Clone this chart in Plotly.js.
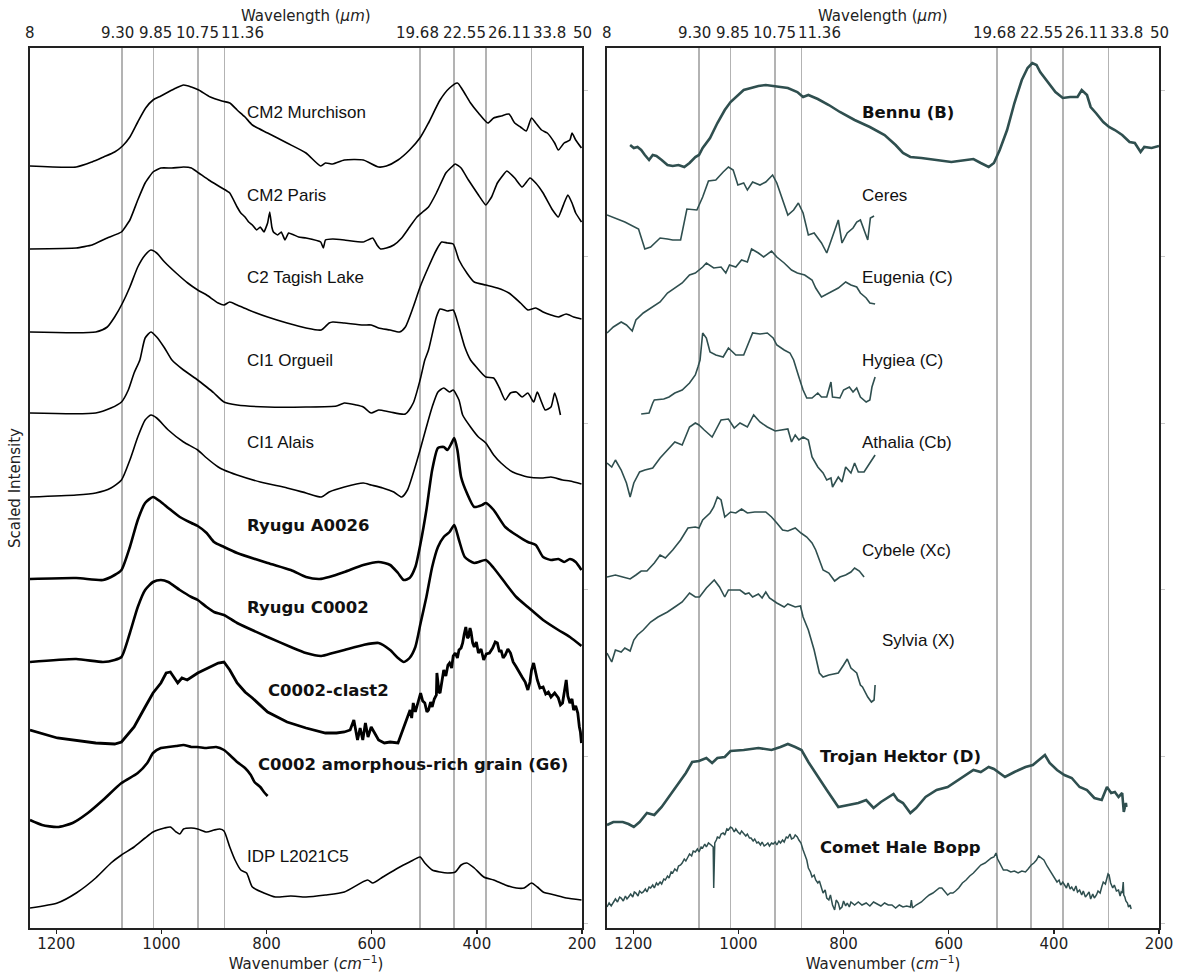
<!DOCTYPE html>
<html>
<head>
<meta charset="utf-8">
<script src="https://cdn.plot.ly/plotly-3.0.1.min.js"></script>
<style>
  html, body { margin: 0; padding: 0; background: #fff; }
  #chart { width: 1177px; height: 973px; }
</style>
</head>
<body>
<div id="chart"></div>
<script>
// ---- Wavelength (µm) labels for the top axis ----
const wavelengthLabels = ["8", "9.30", "9.85", "10.75", "11.36", "19.68", "22.55", "26.11", "33.8", "50"];
const wavenumberTicks = [1200, 1000, 800, 600, 400, 200];

// ---- Laboratory spectra (wavenumber in cm^-1, stacked scaled intensity) ----
const murchisonWn = [1250,1162,1132,1110,1089,1074,1060,1045,1030,1016,1001,987,972,958,943,929,907,885,870,856,841,827,798,761,725,697,688,674,652,616,587,572,550,528,507,492,470,452,437,427,412,397,379,368,354,339,328,317,306,296,288,277,266,252,245,234,223,219,212,201];
const murchisonI  = [76.2,76.1,76.6,77.1,77.6,78.2,79.1,80.6,82.0,82.8,83.2,83.6,84.0,84.3,84.1,83.8,83.1,82.7,82.5,81.8,81.1,80.3,79.5,78.5,77.5,76.2,76.5,76.4,76.8,76.8,76.1,76.2,76.8,77.8,79.1,80.5,82.8,84.0,84.5,83.8,82.5,81.5,80.5,81.0,81.2,81.4,80.5,80.1,79.7,81.0,80.5,79.8,79.5,78.5,77.8,78.5,78.8,79.5,78.8,78.0];

const parisWn = [1250,1162,1132,1103,1076,1060,1045,1031,1016,1001,980,958,943,929,910,885,870,856,849,841,834,827,819,812,805,798,794,790,787,779,772,765,758,739,725,697,692,688,674,652,616,598,590,583,572,558,543,528,514,503,492,477,459,441,430,416,397,383,372,361,343,328,314,299,288,274,256,245,234,227,219,212,201];
const parisI  = [67.9,68.0,68.3,69.0,69.6,70.8,72.8,74.5,75.6,76.0,76.0,76.1,76.0,75.5,74.8,74.0,73.5,72.1,71.5,71.1,70.6,70.3,69.8,70.1,69.6,70.5,71.6,70.1,69.6,69.3,69.6,68.8,69.5,69.1,69.0,68.6,68.0,68.8,68.9,68.8,68.6,69.0,68.3,67.9,68.0,68.3,69.0,70.1,71.1,71.6,72.1,73.5,75.5,76.4,76.0,74.8,73.3,72.3,73.1,74.5,75.7,75.0,74.1,75.0,74.5,73.5,71.8,71.1,72.5,73.3,72.5,71.5,70.6];

const tagishWn = [1250,1125,1103,1089,1074,1060,1045,1031,1020,1009,994,972,950,931,914,892,881,870,856,834,798,761,725,696,681,674,652,616,601,587,565,547,536,521,508,492,477,467,456,445,434,419,405,383,361,339,317,303,288,274,259,245,230,216,201];
const tagishI  = [59.6,59.6,60.1,61.1,62.5,64.1,66.1,67.3,67.8,67.5,66.6,65.5,64.5,63.8,63.3,62.5,62.3,62.6,62.3,61.8,61.1,60.5,60.0,59.8,60.5,60.6,60.5,60.3,60.3,60.0,59.8,59.6,60.1,62.1,64.1,66.1,67.8,68.6,68.5,68.4,66.8,65.5,64.6,64.3,64.0,63.5,62.5,61.8,62.0,61.6,61.3,61.1,61.4,61.1,60.9];

const orgueilWn = [1250,1125,1096,1076,1063,1052,1041,1031,1020,1009,994,980,958,931,914,900,881,856,798,725,667,652,630,616,601,587,565,536,521,508,499,492,477,470,456,445,434,423,412,401,383,368,357,346,336,325,314,303,292,285,277,270,259,252,246,241];
const orgueilI  = [51.5,51.5,52.0,52.6,53.8,55.5,56.8,59.0,59.6,59.1,58.0,56.8,55.8,54.8,54.1,53.5,52.6,52.3,52.1,52.1,52.2,52.5,52.3,52.1,51.5,51.8,51.6,51.4,52.5,54.8,56.8,57.8,61.1,61.9,61.7,61.8,60.1,58.1,56.8,56.1,55.1,55.0,54.0,52.8,53.5,53.6,53.1,53.5,52.6,53.6,52.6,51.8,52.1,53.5,52.5,51.3];

const alaisWn = [1250,1162,1125,1096,1076,1060,1045,1031,1020,1009,987,958,931,914,892,881,856,812,761,725,696,681,652,616,601,579,558,543,532,521,508,496,485,474,463,452,445,434,427,412,397,383,368,354,332,303,274,259,237,223,201];
const alaisI  = [43.1,43.3,43.5,44.0,44.8,46.8,49.1,50.8,51.3,51.0,49.8,48.6,47.8,47.0,46.1,45.8,45.3,44.6,44.0,43.5,43.1,43.6,44.1,44.5,44.3,44.0,43.6,43.1,43.8,45.5,47.8,50.1,52.1,53.6,54.0,53.6,53.8,52.8,51.3,50.1,49.1,48.5,47.3,46.5,45.6,45.1,45.0,45.1,44.8,44.7,44.4];

const ryuguA0026Wn = [1250,1162,1111,1089,1076,1060,1045,1031,1016,1001,987,965,943,931,914,900,881,856,798,754,725,699,681,652,616,587,565,550,539,528,517,507,496,485,474,463,456,448,443,437,430,419,405,390,383,368,346,325,303,288,274,259,245,234,223,212,201];
const ryuguA0026I  = [34.9,35.0,34.8,35.3,35.8,38.1,40.8,42.5,43.1,42.6,42.0,41.1,40.5,40.2,39.5,38.6,38.1,37.5,36.5,35.8,35.1,34.9,35.1,35.6,36.3,36.6,36.3,35.5,34.8,35.0,36.1,38.5,41.8,45.8,48.0,48.1,47.8,48.5,49.0,47.8,45.1,43.5,42.1,42.3,42.5,41.8,40.1,39.3,38.6,38.3,37.1,36.8,36.9,36.6,36.9,36.6,35.8];

const ryuguC0002Wn = [1250,1162,1111,1089,1076,1060,1045,1031,1016,1001,987,965,943,931,914,900,881,856,798,754,725,696,674,652,616,587,565,550,539,528,517,507,496,485,474,463,452,443,434,423,405,383,368,346,325,303,274,245,223,201];
const ryuguC0002I  = [26.6,26.9,26.6,26.8,27.1,29.5,32.1,33.8,34.6,34.8,34.6,33.8,33.1,32.8,32.1,31.6,31.3,30.5,29.1,28.1,27.5,27.2,27.5,27.8,28.3,28.5,27.8,27.0,26.6,27.0,28.1,30.5,33.1,36.1,38.1,39.1,39.6,40.3,38.8,37.1,36.5,36.8,36.0,34.5,33.1,32.1,30.8,29.8,29.1,28.2];

const clast2Wn = [1250,1198,1125,1089,1076,1052,1031,1016,1001,991,983,976,969,961,951,931,910,892,881,870,856,841,827,798,761,725,688,667,652,641,634,630,627,622,617,612,607,601,594,587,576,565,550,543,536,527,524,521,517,514,510,507,503,499,495,492,488,485,481,477,476,474,472,470,466,463,459,455,452,448,445,441,437,434,430,427,424,421,418,416,413,411,408,405,401,397,392,387,382,376,370,365,361,357,354,350,346,341,336,331,325,320,314,308,303,299,296,292,288,285,280,274,269,264,259,252,245,241,237,233,230,227,223,219,216,212,208,205,203,201];
const clast2I  = [19.8,19.0,18.5,18.4,18.6,20.1,22.1,23.5,24.5,25.5,25.6,25.0,24.5,25.0,24.8,25.5,26.0,26.5,26.6,25.8,24.5,23.6,23.0,21.6,20.6,20.0,19.5,19.5,19.6,19.8,20.8,19.8,18.8,20.0,18.8,20.5,19.1,20.1,19.5,18.8,18.5,18.6,18.5,19.5,20.3,21.8,21.0,22.5,21.6,22.1,23.0,23.5,22.7,22.5,21.6,21.8,22.6,22.1,22.9,23.3,25.5,24.5,23.6,23.5,24.6,25.8,25.2,26.3,26.5,26.0,27.2,27.5,27.0,27.8,28.0,28.5,29.4,30.1,29.0,29.1,30.0,29.6,28.5,28.1,28.6,27.5,27.9,26.8,27.4,27.5,28.0,28.6,28.5,27.6,27.8,27.0,27.3,27.9,27.5,26.6,26.1,25.6,25.1,24.6,23.8,24.6,25.8,26.5,25.3,24.8,24.0,24.1,23.4,23.6,23.1,23.5,23.0,22.3,22.5,23.6,24.8,23.2,22.5,22.9,21.8,22.2,21.5,20.1,19.6,18.5];

const g6Wn = [1250,1227,1198,1169,1140,1111,1076,1045,1027,1016,1001,987,972,958,943,931,914,896,881,870,856,841,830,823,812,805,798];
const g6I  = [10.8,10.3,10.1,10.5,11.5,12.8,14.5,15.5,16.5,17.5,18.0,18.1,18.2,18.3,18.1,18.1,18.0,18.1,17.8,17.3,16.6,16.0,15.3,14.6,14.1,13.6,13.2];

const idpWn = [1250,1198,1162,1125,1096,1076,1052,1031,1016,994,983,972,965,958,943,931,914,900,889,881,870,860,849,838,827,805,783,754,725,688,652,608,598,579,550,528,508,499,485,470,456,441,430,419,405,387,368,346,325,310,296,285,274,252,230,201];
const idpI  = [2.0,2.5,3.5,5.0,6.5,7.3,8.1,9.0,9.6,10.0,10.1,9.6,9.4,9.9,10.0,9.9,9.6,9.8,9.9,9.7,8.1,6.8,5.8,5.5,4.1,3.5,3.1,3.2,3.1,3.3,3.6,4.8,4.5,5.1,6.0,6.6,7.1,6.5,5.8,5.6,5.5,5.6,6.3,6.5,6.0,5.1,4.8,4.3,4.0,4.0,4.5,4.1,3.6,3.3,3.0,2.8];

// ---- Telescopic / spacecraft spectra ----
const bennuWn = [1206,1199,1192,1185,1178,1170,1163,1156,1146,1135,1125,1114,1103,1093,1082,1075,1068,1054,1040,1026,1015,1001,990,976,962,948,934,920,906,888,877,867,849,828,807,779,750,722,701,687,673,652,623,595,581,553,539,524,514,503,489,475,461,450,441,433,426,412,397,383,369,355,347,337,330,320,306,295,284,270,256,246,235,228,214,200];
const bennuI  = [78.3,78.0,78.1,77.8,77.3,76.8,77.3,77.2,76.8,76.3,76.2,76.3,76.1,76.5,77.1,77.3,78.0,79.0,80.5,81.8,82.6,83.3,83.8,84.0,84.2,84.3,84.2,84.1,84.0,83.6,83.1,83.3,82.9,82.3,81.6,80.8,80.1,79.3,78.3,77.5,77.1,77.0,76.8,76.6,76.7,76.9,76.5,76.1,76.5,77.8,79.8,82.5,84.8,86.0,86.5,86.3,85.6,84.6,83.6,83.0,83.1,83.1,83.8,83.3,82.1,81.5,80.6,80.1,79.8,79.3,78.6,78.5,77.6,78.1,78.0,78.2];

const ceresWn = [1250,1216,1190,1178,1167,1149,1135,1125,1110,1098,1079,1068,1057,1043,1029,1019,1010,1001,990,983,973,959,948,935,927,916,906,895,886,877,867,856,842,832,821,810,803,793,782,775,768,761,754,749,742];
const ceresI  = [71.3,70.6,69.9,67.9,68.1,69.0,68.9,68.8,68.8,71.9,71.8,73.1,74.7,74.8,75.6,76.1,75.8,74.3,74.5,73.8,74.6,74.3,74.6,75.3,74.5,72.8,71.3,71.8,72.5,71.5,69.3,69.5,68.5,67.5,69.1,70.8,68.5,69.5,70.0,70.6,70.8,69.8,68.8,71.0,71.2];

const eugeniaWn = [1250,1238,1223,1213,1202,1195,1181,1167,1149,1135,1121,1107,1093,1082,1068,1061,1047,1033,1024,1017,1005,994,983,975,962,952,937,927,913,899,888,874,860,853,842,828,810,796,786,775,768,757,750,740];
const eugeniaI  = [59.5,60.1,60.6,60.3,59.7,60.8,61.5,62.0,62.6,63.5,64.0,64.5,65.3,65.5,66.1,66.5,66.0,66.1,65.5,66.3,66.1,66.8,66.6,67.9,67.5,67.1,67.7,67.1,66.5,65.8,65.5,65.3,64.8,64.0,63.1,63.5,64.0,64.6,64.3,64.1,63.5,63.0,62.5,62.4];

const hygieaWn = [1185,1170,1163,1160,1142,1132,1121,1107,1093,1082,1077,1073,1068,1061,1054,1043,1029,1019,1005,990,973,959,945,934,927,913,902,895,885,877,870,860,849,842,832,824,821,807,800,789,782,775,768,757,750,746,740];
const hygieaI  = [51.4,51.5,52.5,52.8,52.9,53.1,53.5,53.8,54.5,55.3,56.1,56.8,59.5,59.0,57.6,57.3,57.1,58.0,57.3,57.3,59.5,59.4,59.5,59.0,58.3,57.8,57.5,56.8,55.1,53.8,53.0,53.0,53.5,53.1,53.1,54.6,53.1,53.0,53.8,54.1,53.6,54.0,53.1,52.6,52.8,54.1,55.1];

const athaliaWn = [1250,1241,1234,1223,1213,1206,1199,1188,1178,1163,1149,1135,1121,1107,1093,1082,1075,1065,1050,1033,1019,1008,997,983,971,959,945,930,920,906,899,892,885,877,867,860,849,839,832,824,821,810,803,796,786,779,772,761,750,740];
const athaliaI  = [46.5,46.1,46.8,45.8,44.5,43.1,44.5,45.6,45.8,46.0,47.0,47.8,48.6,48.3,50.1,50.5,50.3,49.8,49.1,50.8,50.9,50.0,50.5,50.1,51.3,50.6,50.1,49.7,49.8,49.9,48.6,49.3,48.8,49.1,48.8,47.1,46.1,45.5,44.8,45.0,44.1,45.1,44.6,46.1,45.5,46.5,45.6,45.6,46.5,47.3];

const cybeleWn = [1250,1234,1220,1206,1195,1185,1174,1160,1149,1139,1125,1110,1096,1082,1075,1068,1054,1047,1040,1033,1026,1015,1005,994,983,969,948,937,927,916,906,892,881,870,860,853,846,839,828,817,807,796,786,779,770,761];
const cybeleI  = [35.1,35.3,35.1,34.9,35.3,35.7,35.7,36.5,37.3,37.0,37.8,38.8,40.0,40.1,40.0,40.8,41.5,42.1,43.1,42.8,41.1,41.6,41.5,41.9,41.5,41.6,41.6,41.1,40.5,39.8,39.7,40.0,39.5,39.1,38.5,37.8,36.8,35.8,35.5,34.7,35.1,35.3,35.6,36.0,35.7,35.1];

const sylviaWn = [1250,1241,1234,1223,1216,1206,1199,1192,1181,1167,1153,1135,1121,1107,1093,1082,1074,1061,1046,1036,1026,1019,997,987,980,973,962,955,948,941,927,913,906,892,882,877,867,856,846,839,828,810,800,793,786,775,768,764,754,747,742,740];
const sylviaI  = [27.5,26.6,27.8,27.6,28.0,27.7,28.8,29.3,29.8,30.6,31.1,31.6,32.1,32.6,33.5,33.1,33.1,34.0,34.8,34.1,33.1,33.8,33.8,33.4,33.5,33.1,33.4,33.0,33.6,33.0,32.5,32.1,32.4,32.1,32.2,31.1,29.8,27.8,25.5,25.1,25.3,25.5,26.3,26.9,26.0,25.5,24.3,24.1,23.1,22.6,22.8,24.3];

const hektorWn = [1250,1238,1220,1209,1199,1188,1174,1160,1146,1132,1114,1100,1088,1075,1061,1050,1040,1026,1015,990,962,937,920,906,892,880,867,849,832,810,793,772,757,743,729,715,705,697,687,673,662,644,623,602,581,567,553,539,524,514,503,493,475,454,440,429,417,408,394,380,366,351,337,323,309,299,291,284,277,270,267,263,262];
const hektorI  = [10.3,10.6,10.6,10.4,10.1,10.6,11.5,11.3,12.1,13.1,14.5,15.5,16.6,16.7,17.0,16.5,17.0,17.1,17.7,17.8,18.0,17.8,18.1,18.4,18.1,17.8,16.6,15.1,13.8,12.1,12.3,12.5,12.8,12.0,12.6,13.1,13.4,12.8,12.5,11.5,12.0,13.1,13.8,14.1,14.8,15.3,15.8,15.6,16.1,15.9,15.5,15.1,15.6,16.1,16.3,16.8,17.3,16.5,15.8,15.3,15.0,14.1,13.8,13.0,12.8,14.1,13.5,13.6,13.1,13.5,11.6,12.5,12.1];

const haleBoppWn = [1250,1246,1242,1238,1234,1230,1226,1223,1219,1215,1212,1209,1205,1201,1198,1195,1191,1188,1184,1181,1177,1174,1170,1167,1163,1160,1156,1153,1149,1146,1142,1139,1135,1132,1128,1125,1121,1117,1114,1110,1107,1103,1100,1096,1093,1089,1086,1082,1078,1075,1071,1068,1064,1061,1057,1052,1048,1047,1046,1045,1042,1040,1036,1033,1029,1026,1022,1019,1015,1012,1008,1005,1001,997,994,990,986,983,979,976,972,969,965,962,958,955,951,948,944,941,937,934,930,927,923,920,916,913,909,906,902,899,895,892,888,885,881,877,874,870,867,863,860,856,853,849,846,842,839,835,832,828,825,821,817,814,810,807,803,800,796,793,789,786,782,779,772,765,757,750,743,736,729,722,715,708,701,694,687,680,673,671,669,662,656,652,644,637,630,623,618,613,607,602,597,592,587,581,574,567,560,553,546,539,531,524,519,514,510,507,503,499,496,489,482,475,468,461,454,449,443,438,433,429,426,422,419,413,408,401,394,390,387,383,380,376,373,369,366,362,358,355,351,347,344,340,337,333,330,326,323,319,316,312,309,306,302,299,297,295,292,288,285,281,277,274,272,270,268,267,265,263,260,258,255,253];
const haleBoppI  = [2.1,2.5,2.2,2.6,2.9,2.6,3.1,3.0,2.7,3.2,2.9,3.1,3.4,3.1,3.6,3.5,3.2,3.7,3.5,3.6,3.9,3.6,4.1,4.0,4.3,4.0,4.5,4.3,4.6,4.4,4.9,4.8,5.2,5.0,5.6,5.5,5.9,5.7,6.2,6.3,6.5,6.9,6.7,7.1,7.4,7.2,7.7,7.6,7.9,7.6,8.1,8.0,8.4,8.1,8.5,8.3,8.1,4.0,8.2,8.5,8.8,9.1,9.0,9.4,9.5,9.3,9.9,9.8,10.1,10.0,9.6,9.9,9.6,9.4,9.7,9.5,9.2,9.4,9.0,9.0,8.7,8.9,8.5,8.6,8.3,8.6,8.2,8.3,8.5,8.2,8.5,8.4,8.6,8.3,8.7,8.5,8.8,8.6,9.1,9.0,9.4,8.9,9.0,9.3,9.1,8.8,8.5,7.8,7.4,6.8,6.0,5.6,5.1,5.3,4.8,4.5,4.7,3.9,3.5,3.8,3.0,2.8,3.3,2.3,1.8,2.8,2.5,1.9,2.1,2.7,2.2,2.5,2.1,2.6,2.4,2.3,2.6,2.3,2.5,2.2,2.6,2.4,2.2,2.5,2.3,2.3,2.0,2.3,2.1,2.2,2.1,2.8,2.0,2.3,2.5,2.6,3.0,3.3,3.5,3.8,4.0,4.0,3.6,3.3,3.5,3.5,3.7,4.0,4.5,4.8,5.2,5.5,5.9,6.3,6.5,6.8,7.0,7.1,7.5,6.9,6.5,6.0,5.8,5.8,5.6,5.7,5.5,5.7,5.6,5.9,6.3,6.5,6.8,7.2,7.1,6.9,6.8,6.2,5.8,5.2,4.6,4.8,4.3,4.6,4.3,4.0,4.5,3.9,4.1,3.7,4.2,3.6,3.8,3.3,3.7,3.1,3.3,3.6,2.9,3.4,3.0,3.3,3.7,3.5,4.1,4.6,4.4,5.0,5.4,5.3,4.5,4.0,4.3,3.7,3.8,3.2,3.6,3.5,4.6,3.3,3.1,2.7,2.5,2.1,2.3,1.9];

// ---- Panel contents ----
const leftNames  = ["CM2 Murchison", "CM2 Paris", "C2 Tagish Lake", "CI1 Orgueil", "CI1 Alais",
                    "Ryugu A0026", "Ryugu C0002", "C0002-clast2", "C0002 amorphous-rich grain (G6)", "IDP L2021C5"];
const rightNames = ["Bennu (B)", "Ceres", "Eugenia (C)", "Hygiea (C)", "Athalia (Cb)", "Cybele (Xc)",
                    "Sylvia (X)", "Trojan Hektor (D)", "Comet Hale Bopp"];

const leftSeries = [
  [murchisonWn, murchisonI], [parisWn, parisI], [tagishWn, tagishI], [orgueilWn, orgueilI], [alaisWn, alaisI],
  [ryuguA0026Wn, ryuguA0026I], [ryuguC0002Wn, ryuguC0002I], [clast2Wn, clast2I], [g6Wn, g6I], [idpWn, idpI]
];
const rightSeries = [
  [bennuWn, bennuI], [ceresWn, ceresI], [eugeniaWn, eugeniaI], [hygieaWn, hygieaI], [athaliaWn, athaliaI],
  [cybeleWn, cybeleI], [sylviaWn, sylviaI], [hektorWn, hektorI], [haleBoppWn, haleBoppI]
];

// ---- Styling ----
const leftBold  = [false, false, false, false, false, true, true, true, true, false];
const rightBold = [true, false, false, false, false, false, false, true, true];
const leftWidth  = [1.6, 1.6, 1.6, 1.6, 1.6, 2.6, 2.6, 2.8, 2.6, 1.6];
const rightWidth = [2.6, 1.6, 1.6, 1.6, 1.6, 1.6, 1.6, 2.6, 1.5];
// smooth interpolation for the smooth lab spectra, straight segments for noisy ones
const leftSmooth = [0.6, 0.35, 0.6, 0.6, 0.6, 0.6, 0.6, 0, 0.6, 0.6];
const slate = "#2f4f4f";

// label anchor points (wavenumber, intensity) for each curve label
const leftLabelPos  = [[841, 81.6], [841, 73.3], [841, 65.1], [841, 56.8], [841, 48.6],
                       [841, 40.3], [841, 32.1], [801, 23.8], [821, 16.4], [841, 7.2]];
const rightLabelPos = [[769, 81.6], [769, 73.3], [769, 65.1], [769, 56.8], [769, 48.6],
                       [769, 37.8], [731, 28.8], [849, 17.2], [849, 8.1]];
// the crowded wavelength labels are spread a little so they do not collide
const wavelengthLabelAt = [1250, 1083, 1012, 932, 845, 512, 424, 337, 261, 200];

const traces = [];
leftSeries.forEach(([wn, I], i) => {
  const line = { color: "#000", width: leftWidth[i] };
  if (leftSmooth[i] > 0) { line.shape = "spline"; line.smoothing = leftSmooth[i]; }
  traces.push({
    type: "scatter", mode: "lines", x: wn, y: I, xaxis: "x", yaxis: "y",
    name: leftNames[i], hoverinfo: "skip", line: line
  });
});
rightSeries.forEach(([wn, I], i) => {
  traces.push({
    type: "scatter", mode: "lines", x: wn, y: I, xaxis: "x3", yaxis: "y2",
    name: rightNames[i], hoverinfo: "skip",
    line: { color: slate, width: rightWidth[i] }
  });
});
// empty traces so that the wavelength (top) axes are created
traces.push({ type: "scatter", mode: "lines", x: [1250], y: [null], xaxis: "x2", yaxis: "y", hoverinfo: "skip", showlegend: false });
traces.push({ type: "scatter", mode: "lines", x: [1250], y: [null], xaxis: "x4", yaxis: "y2", hoverinfo: "skip", showlegend: false });

const regularFont = { family: "Liberation Sans, Arial, sans-serif", size: 17, color: "#111" };
const boldFont    = { family: "DejaVu Sans, sans-serif", size: 16.5, color: "#111", weight: "bold" };
const axisFont    = { family: "DejaVu Sans, sans-serif", size: 15, color: "#222" };

const annotations = [];
leftNames.forEach((t, i) => {
  annotations.push({
    xref: "x", yref: "y", x: leftLabelPos[i][0], y: leftLabelPos[i][1],
    text: leftBold[i] ? "<b>" + t + "</b>" : t, showarrow: false,
    xanchor: "left", yanchor: "middle", font: leftBold[i] ? boldFont : regularFont
  });
});
rightNames.forEach((t, i) => {
  annotations.push({
    xref: "x3", yref: "y2", x: rightLabelPos[i][0], y: rightLabelPos[i][1],
    text: rightBold[i] ? "<b>" + t + "</b>" : t, showarrow: false,
    xanchor: "left", yanchor: "middle", font: rightBold[i] ? boldFont : regularFont
  });
});
// wavelength tick labels and title above each panel
["x", "x3"].forEach(ax => {
  wavelengthLabels.forEach((t, i) => {
    annotations.push({
      xref: ax, yref: "paper", x: wavelengthLabelAt[i], y: 1, yshift: 15,
      text: t, showarrow: false, xanchor: "center", yanchor: "middle", font: axisFont
    });
  });
  annotations.push({
    xref: ax, yref: "paper", x: 725, y: 1, yshift: 32,
    text: "Wavelength (<i>μm</i>)", showarrow: false, xanchor: "center", yanchor: "middle", font: axisFont
  });
});
annotations.push({
  xref: "paper", yref: "paper", x: 15 / 1177, y: 0.5, text: "Scaled Intensity",
  textangle: -90, showarrow: false, xanchor: "center", yanchor: "middle", font: axisFont
});

const wavelengthTickVals = wavelengthLabels.map(s => 1e4 / parseFloat(s));
const xRange = [1250, 200];
const yRange = [0, 88];

function bottomAxis(domain, anchor) {
  return {
    domain: domain, anchor: anchor, range: xRange, autorange: false,
    tickmode: "array", tickvals: wavenumberTicks, ticks: "outside", ticklen: 4, tickwidth: 1.3,
    tickcolor: "#222", showline: true, mirror: true, linecolor: "#222", linewidth: 1.6,
    showgrid: false, zeroline: false, tickfont: axisFont, tickangle: 0, ticklabelstandoff: -3,
    title: { text: "Wavenumber (<i>cm</i><sup>−1</sup>)", font: axisFont, standoff: 14 }
  };
}
// top axes carry the wavelength grid lines (labels are drawn as annotations)
function topAxis(over, anchor) {
  return {
    overlaying: over, anchor: anchor, side: "top", range: xRange, autorange: false,
    tickmode: "array", tickvals: wavelengthTickVals, showticklabels: false,
    ticks: "", showline: false, zeroline: false,
    showgrid: true, gridcolor: "#b3b3b3", gridwidth: 1.5
  };
}
function sideAxis(anchor) {
  return {
    domain: [0, 1], anchor: anchor, range: yRange, autorange: false, side: "right",
    showline: true, mirror: true, linecolor: "#222", linewidth: 1.6,
    ticks: "outside", ticklen: 4, tickcolor: "#c8c8c8", tick0: 0.5, dtick: 16.66,
    showticklabels: false, showgrid: false, zeroline: false
  };
}

const layout = {
  width: 1177, height: 973,
  margin: { l: 0, r: 0, t: 48, b: 45 },
  paper_bgcolor: "#fff", plot_bgcolor: "#fff",
  showlegend: false,
  xaxis:  bottomAxis([30 / 1177, 582 / 1177], "y"),
  xaxis2: topAxis("x", "y"),
  xaxis3: bottomAxis([607 / 1177, 1159 / 1177], "y2"),
  xaxis4: topAxis("x3", "y2"),
  yaxis:  sideAxis("x"),
  yaxis2: sideAxis("x3"),
  annotations: annotations
};

Plotly.newPlot("chart", traces, layout, { staticPlot: true, displayModeBar: false });
</script>
</body>
</html>
